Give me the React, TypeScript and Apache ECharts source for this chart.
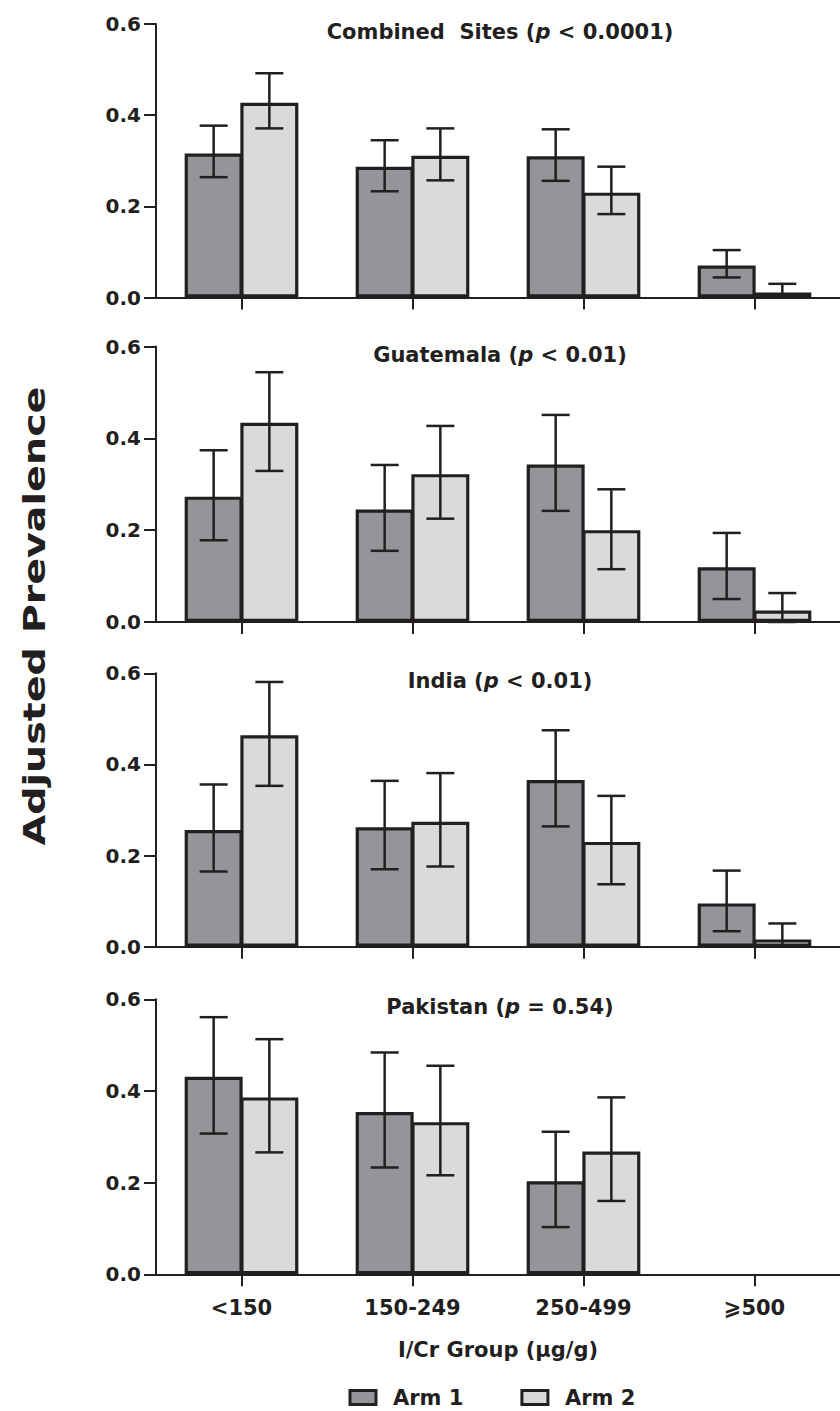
import React, { useEffect, useRef } from "react";
import * as echarts from "echarts";

// ---------- data ----------
const categories = ["<150", "150-249", "250-499", "⩾500"];
const armNames = ["Arm 1", "Arm 2"];

const panelTitles = [
  ["Combined  Sites (", "p", " < 0.0001)"],
  ["Guatemala (", "p", " < 0.01)"],
  ["India (", "p", " < 0.01)"],
  ["Pakistan (", "p", " = 0.54)"],
];

// Combined sites
const combinedArm1 = [0.316, 0.287, 0.31, 0.07];
const combinedArm1Lo = [0.264, 0.233, 0.256, 0.044];
const combinedArm1Hi = [0.377, 0.345, 0.369, 0.104];
const combinedArm2 = [0.427, 0.311, 0.23, 0.011];
const combinedArm2Lo = [0.371, 0.257, 0.183, 0.002];
const combinedArm2Hi = [0.492, 0.371, 0.287, 0.03];

// Guatemala
const guatemalaArm1 = [0.273, 0.245, 0.343, 0.119];
const guatemalaArm1Lo = [0.178, 0.155, 0.242, 0.05];
const guatemalaArm1Hi = [0.374, 0.342, 0.451, 0.194];
const guatemalaArm2 = [0.434, 0.322, 0.2, 0.025];
const guatemalaArm2Lo = [0.329, 0.225, 0.115, 0.0];
const guatemalaArm2Hi = [0.544, 0.427, 0.289, 0.063];

// India
const indiaArm1 = [0.256, 0.262, 0.366, 0.095];
const indiaArm1Lo = [0.165, 0.17, 0.264, 0.034];
const indiaArm1Hi = [0.356, 0.364, 0.475, 0.167];
const indiaArm2 = [0.464, 0.274, 0.23, 0.016];
const indiaArm2Lo = [0.353, 0.176, 0.137, 0.0];
const indiaArm2Hi = [0.581, 0.381, 0.331, 0.051];

// Pakistan
const pakistanArm1 = [0.431, 0.354, 0.203, null];
const pakistanArm1Lo = [0.307, 0.233, 0.103, null];
const pakistanArm1Hi = [0.561, 0.484, 0.311, null];
const pakistanArm2 = [0.386, 0.332, 0.268, null];
const pakistanArm2Lo = [0.266, 0.216, 0.16, null];
const pakistanArm2Hi = [0.513, 0.455, 0.386, null];

const yTicks = [0.0, 0.2, 0.4, 0.6];

const panels = [
  { arm1: combinedArm1, arm1Lo: combinedArm1Lo, arm1Hi: combinedArm1Hi, arm2: combinedArm2, arm2Lo: combinedArm2Lo, arm2Hi: combinedArm2Hi },
  { arm1: guatemalaArm1, arm1Lo: guatemalaArm1Lo, arm1Hi: guatemalaArm1Hi, arm2: guatemalaArm2, arm2Lo: guatemalaArm2Lo, arm2Hi: guatemalaArm2Hi },
  { arm1: indiaArm1, arm1Lo: indiaArm1Lo, arm1Hi: indiaArm1Hi, arm2: indiaArm2, arm2Lo: indiaArm2Lo, arm2Hi: indiaArm2Hi },
  { arm1: pakistanArm1, arm1Lo: pakistanArm1Lo, arm1Hi: pakistanArm1Hi, arm2: pakistanArm2, arm2Lo: pakistanArm2Lo, arm2Hi: pakistanArm2Hi },
];

// ---------- style ----------
const INK = "#231f20";
const ARM1_FILL = "#939598";
const ARM2_FILL = "#d9dadc";
const FONT = '"DejaVu Sans", sans-serif';
const BAR_W = 58;
const BAR_GAP_PCT = -4;
const CAP_HALF = 14;

const gridLayout = [
  { top: 24, height: 273.5 },
  { top: 346.5, height: 275.5 },
  { top: 673.3, height: 273.4 },
  { top: 999.3, height: 275 },
];
const GRID_LEFT = 156;
const GRID_WIDTH = 687;

export default function App() {
  const ref = useRef<HTMLDivElement>(null);

  useEffect(() => {
    if (!ref.current) return;
    const chart = echarts.init(ref.current, undefined, { renderer: "svg" });

    const grids: any[] = [];
    const xAxes: any[] = [];
    const yAxes: any[] = [];
    const series: any[] = [];
    const graphics: any[] = [];

    const offset = (BAR_W + (BAR_W * BAR_GAP_PCT) / 100) / 2;

    panels.forEach((p, i) => {
      const last = i === panels.length - 1;
      grids.push({ left: GRID_LEFT, width: GRID_WIDTH, top: gridLayout[i].top, height: gridLayout[i].height });
      xAxes.push({
        type: "category",
        gridIndex: i,
        data: categories,
        axisLine: { show: true, lineStyle: { color: INK, width: 2 } },
        axisTick: { show: true, alignWithLabel: true, length: 12, lineStyle: { color: INK, width: 2 } },
        axisLabel: {
          show: last,
          margin: 23,
          color: INK,
          fontFamily: FONT,
          fontWeight: "bold",
          fontSize: 21,
        },
        name: last ? "I/Cr Group (µg/g)" : "",
        nameLocation: "middle",
        nameGap: 65,
        nameTextStyle: { color: INK, fontFamily: FONT, fontWeight: "bold", fontSize: 21 },
        splitLine: { show: false },
      });
      yAxes.push({
        type: "value",
        gridIndex: i,
        min: yTicks[0],
        max: yTicks[yTicks.length - 1],
        interval: yTicks[1] - yTicks[0],
        axisLine: { show: true, lineStyle: { color: INK, width: 2 } },
        axisTick: { show: true, length: 12, lineStyle: { color: INK, width: 2 } },
        axisLabel: {
          margin: 15,
          color: INK,
          fontFamily: FONT,
          fontWeight: "bold",
          fontSize: 20,
          formatter: (v: number) => v.toFixed(1),
        },
        splitLine: { show: false },
      });

      const arms = [
        { name: armNames[0], vals: p.arm1, lo: p.arm1Lo, hi: p.arm1Hi, fill: ARM1_FILL, side: -1 },
        { name: armNames[1], vals: p.arm2, lo: p.arm2Lo, hi: p.arm2Hi, fill: ARM2_FILL, side: 1 },
      ];
      arms.forEach((a) => {
        series.push({
          type: "bar",
          name: a.name,
          xAxisIndex: i,
          yAxisIndex: i,
          data: a.vals,
          barWidth: BAR_W,
          barGap: BAR_GAP_PCT + "%",
          itemStyle: { color: a.fill, borderColor: INK, borderWidth: 3.2 },
          z: 2,
        });
      });
      arms.forEach((a) => {
        const errData: any[] = [];
        a.vals.forEach((v, k) => {
          if (v == null || a.lo[k] == null) return;
          errData.push([k, a.lo[k], a.hi[k]]);
        });
        series.push({
          type: "custom",
          name: a.name + " error",
          xAxisIndex: i,
          yAxisIndex: i,
          z: 5,
          silent: true,
          encode: { x: 0, y: [1, 2] },
          data: errData,
          renderItem: (params: any, api: any) => {
            const k = api.value(0);
            const pLo = api.coord([k, api.value(1)]);
            const pHi = api.coord([k, api.value(2)]);
            const cx = pLo[0] + a.side * offset;
            const st = { stroke: INK, lineWidth: 2.5 };
            return {
              type: "group",
              children: [
                { type: "line", shape: { x1: cx, y1: pHi[1], x2: cx, y2: pLo[1] }, style: st },
                { type: "line", shape: { x1: cx - CAP_HALF, y1: pHi[1], x2: cx + CAP_HALF, y2: pHi[1] }, style: st },
                { type: "line", shape: { x1: cx - CAP_HALF, y1: pLo[1], x2: cx + CAP_HALF, y2: pLo[1] }, style: st },
              ],
            };
          },
        });
      });

      const t = panelTitles[i];
      graphics.push({
        type: "text",
        x: GRID_LEFT + 344,
        y: gridLayout[i].top + 8,
        style: {
          text: `{b|${t[0]}}{i|${t[1]}}{b|${t[2]}}`,
          align: "center",
          verticalAlign: "middle",
          textAlign: "center",
          textVerticalAlign: "middle",
          rich: {
            b: { fontFamily: FONT, fontWeight: "bold", fontSize: 21, fill: INK, color: INK },
            i: { fontFamily: FONT, fontWeight: "bold", fontStyle: "italic", fontSize: 21, fill: INK, color: INK },
          },
        },
      });
    });

    graphics.push({
      type: "text",
      x: 34,
      y: 616,
      rotation: Math.PI / 2,
      scaleX: 1.32,
      style: {
        text: "Adjusted Prevalence",
        font: `bold 30px ${FONT}`,
        fill: INK,
        align: "center",
        verticalAlign: "middle",
        textAlign: "center",
        textVerticalAlign: "middle",
      },
    });

    chart.setOption({
      animation: false,
      backgroundColor: "#ffffff",
      grid: grids,
      xAxis: xAxes,
      yAxis: yAxes,
      series,
      graphic: graphics,
      legend: {
        data: armNames,
        left: 348.5,
        top: 1387,
        padding: 0,
        icon: "rect",
        itemWidth: 26,
        itemHeight: 14,
        itemGap: 57,
        itemStyle: { borderColor: INK, borderWidth: 3 },
        textStyle: { color: INK, fontFamily: FONT, fontWeight: "bold", fontSize: 21, padding: [0, 0, 0, 12] },
        selectedMode: false,
      },
    });

    return () => chart.dispose();
  }, []);

  return (
    <div
      ref={ref}
      style={{ position: "absolute", left: 0, top: 0, width: 840, height: 1411, background: "#fff" }}
    />
  );
}
